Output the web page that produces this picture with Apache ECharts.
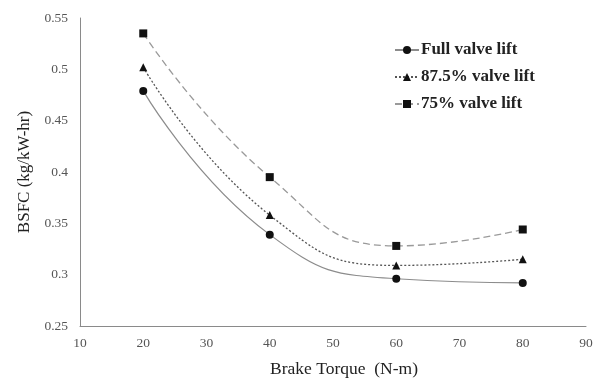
<!DOCTYPE html>
<html>
<head>
<meta charset="utf-8">
<script src="https://cdn.jsdelivr.net/npm/echarts@6/dist/echarts.min.js"></script>
<style>
  html, body { margin: 0; padding: 0; background: #fff; }
  #chart { width: 598px; height: 378px; }
</style>
</head>
<body>
<div id="chart"></div>
<script>
// Brake torque (N-m) and BSFC (kg/kW-hr) for each valve lift setting
const torque = [20, 40, 60, 80];
const fullLift = [0.479, 0.339, 0.296, 0.292];
const lift875 = [0.502, 0.358, 0.309, 0.315];
const lift75 = [0.535, 0.395, 0.328, 0.344];
const seriesNames = ['Full valve lift', '87.5% valve lift', '75% valve lift'];

const pairs = vals => torque.map((t, i) => [t, vals[i]]);
const serif = '"Liberation Serif", "DejaVu Serif", serif';

const chart = echarts.init(document.getElementById('chart'), null, { renderer: 'canvas' });

function lineSeries(name, vals, symbol, size, lineType, color, width) {
  return {
    name: name,
    type: 'line',
    data: pairs(vals),
    smooth: 0.5,
    symbol: symbol,
    symbolSize: size,
    itemStyle: { color: '#111' },
    lineStyle: { color: color, width: width, type: lineType },
    emphasis: { disabled: true }
  };
}

chart.setOption({
  animation: false,
  backgroundColor: '#fff',
  grid: { left: 80, top: 18, right: 12, bottom: 52, outerBoundsMode: 'none', containLabel: false },
  legend: {
    orient: 'vertical',
    left: 389,
    top: 36,
    itemGap: 9,
    itemWidth: 24,
    itemHeight: 10,
    data: seriesNames,
    textStyle: {
      fontFamily: serif, fontSize: 17, fontWeight: 'bold', color: '#222',
      lineHeight: 18, padding: [0, 0, 0, -3]
    }
  },
  xAxis: {
    type: 'value',
    min: 10,
    max: 90,
    interval: 10,
    name: 'Brake Torque  (N-m)',
    nameLocation: 'middle',
    nameGap: 34,
    nameTextStyle: { fontFamily: serif, fontSize: 17.5, color: '#222', padding: [0, 0, 0, 22] },
    axisLine: { show: true, lineStyle: { color: '#8a8a8a', width: 1 } },
    axisTick: { show: false },
    splitLine: { show: false },
    axisLabel: { fontFamily: serif, fontSize: 13.5, color: '#555', margin: 10 }
  },
  yAxis: {
    type: 'value',
    min: 0.25,
    max: 0.55,
    interval: 0.05,
    name: 'BSFC (kg/kW-hr)',
    nameLocation: 'middle',
    nameGap: 47,
    nameTextStyle: { fontFamily: serif, fontSize: 17, color: '#222' },
    axisLine: { show: true, lineStyle: { color: '#8a8a8a', width: 1 } },
    axisTick: { show: false },
    splitLine: { show: false },
    axisLabel: {
      fontFamily: serif, fontSize: 13.5, color: '#555', margin: 12,
      formatter: v => String(Math.round(v * 100) / 100)
    }
  },
  series: [
    lineSeries(seriesNames[0], fullLift, 'circle', 8, 'solid', '#8c8c8c', 1.2),
    lineSeries(seriesNames[1], lift875, 'triangle', 8, [2, 2], '#555', 1.3),
    lineSeries(seriesNames[2], lift75, 'rect', 8, [7, 4], '#9a9a9a', 1.3)
  ]
});
</script>
</body>
</html>
